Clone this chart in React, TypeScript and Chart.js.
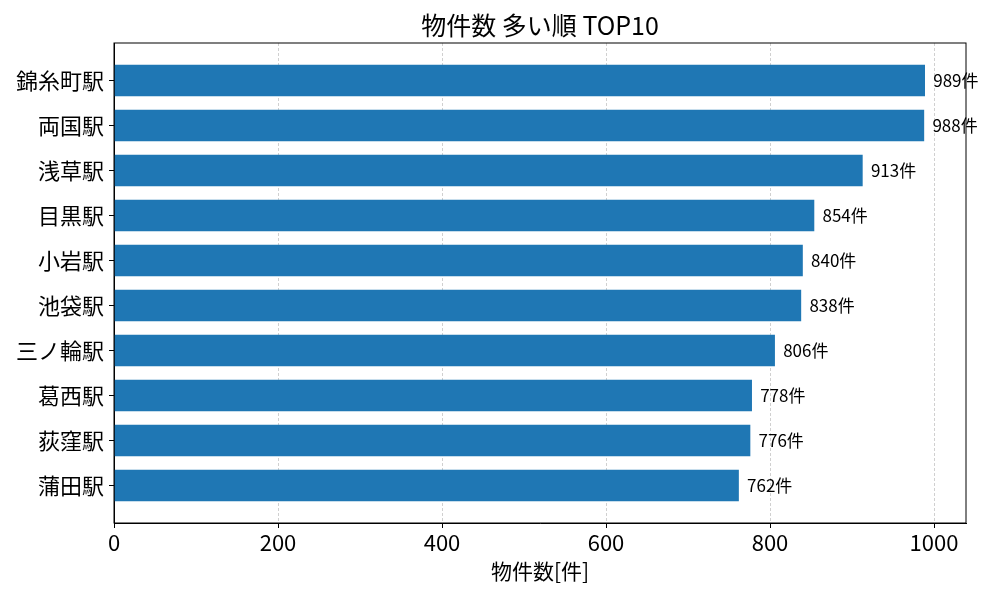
import React, { useEffect, useRef } from 'react';
import { Chart, registerables } from 'chart.js';

Chart.register(...registerables);

const stations: string[] = [
  '錦糸町駅',
  '両国駅',
  '浅草駅',
  '目黒駅',
  '小岩駅',
  '池袋駅',
  '三ノ輪駅',
  '葛西駅',
  '荻窪駅',
  '蒲田駅',
];
const counts: number[] = [989, 988, 913, 854, 840, 838, 806, 778, 776, 762];
const xTicks: number[] = [0, 200, 400, 600, 800, 1000];

const FONT = '"Noto Sans CJK JP", "Noto Sans", sans-serif';
const BAR_COLOR = '#1f77b4';

// title, outer frame and value labels
const extras = {
  id: 'extras',
  afterDraw(chart: Chart) {
    const { ctx, chartArea } = chart;
    const xs = chart.scales.x;
    const ys = chart.scales.y;
    ctx.save();

    ctx.strokeStyle = '#000';
    ctx.lineWidth = 1;
    ctx.strokeRect(chartArea.left, chartArea.top, chartArea.right - chartArea.left, chartArea.bottom - chartArea.top);

    ctx.fillStyle = '#000';
    ctx.font = `25px ${FONT}`;
    ctx.textAlign = 'center';
    ctx.textBaseline = 'middle';
    ctx.fillText('物件数 多い順 TOP10', (chartArea.left + chartArea.right) / 2, 25);

    ctx.font = `17px ${FONT}`;
    ctx.textAlign = 'left';
    counts.forEach((v, i) => {
      ctx.fillText(`${v}件`, xs.getPixelForValue(v + 10), ys.getPixelForValue(i));
    });
    ctx.restore();
  },
};

const App: React.FC = () => {
  const canvasRef = useRef<HTMLCanvasElement | null>(null);

  useEffect(() => {
    if (!canvasRef.current) return;

    const chart = new Chart(canvasRef.current, {
      type: 'bar',
      data: {
        datasets: [
          {
            data: counts.map((v, i) => ({ x: v, y: i })),
            backgroundColor: BAR_COLOR,
            categoryPercentage: 1,
            barPercentage: 0.7,
          },
        ],
      },
      options: {
        indexAxis: 'y',
        animation: false,
        responsive: false,
        layout: { padding: { top: 43, right: 34, left: 0, bottom: 16 } },
        plugins: {
          legend: { display: false },
          tooltip: { enabled: false },
        },
        scales: {
          x: {
            type: 'linear',
            min: 0,
            max: 1039,
            z: 1,
            afterBuildTicks: (scale: any) => {
              scale.ticks = xTicks.map((v) => ({ value: v }));
            },
            afterFit: (scale: any) => {
              scale.height = 61;
            },
            ticks: {
              color: '#000',
              font: { family: FONT, size: 22 },
              padding: 1,
              maxRotation: 0,
              callback: (value: any) => String(value),
            },
            grid: {
              color: 'rgba(176,176,176,0.6)',
              lineWidth: 1,
              drawTicks: true,
              tickLength: 5,
              tickColor: '#000',
            },
            border: { display: true, color: '#000', width: 1, dash: [3, 2] },
            title: {
              display: true,
              text: '物件数[件]',
              color: '#000',
              font: { family: FONT, size: 21 },
              padding: { top: 0, bottom: 0 },
            },
          },
          y: {
            type: 'linear',
            min: -0.835,
            max: 9.835,
            reverse: true,
            offset: false,
            afterBuildTicks: (scale: any) => {
              scale.ticks = stations.map((_, i) => ({ value: i }));
            },
            afterFit: (scale: any) => {
              scale.width = 114;
            },
            ticks: {
              color: '#000',
              font: { family: FONT, size: 22 },
              padding: 5,
              callback: (value: any) => stations[Number(value)] ?? '',
            },
            grid: {
              display: true,
              offset: false,
              drawOnChartArea: false,
              drawTicks: true,
              tickLength: 5,
              tickColor: '#000',
            },
            border: { display: true, color: '#000', width: 1 },
          },
        },
      },
      plugins: [extras],
    });

    return () => {
      chart.destroy();
    };
  }, []);

  return (
    <div style={{ position: 'fixed', left: 0, top: 0, width: 1000, height: 600, background: '#fff' }}>
      <canvas ref={canvasRef} width={1000} height={600}></canvas>
    </div>
  );
};

export default App;
